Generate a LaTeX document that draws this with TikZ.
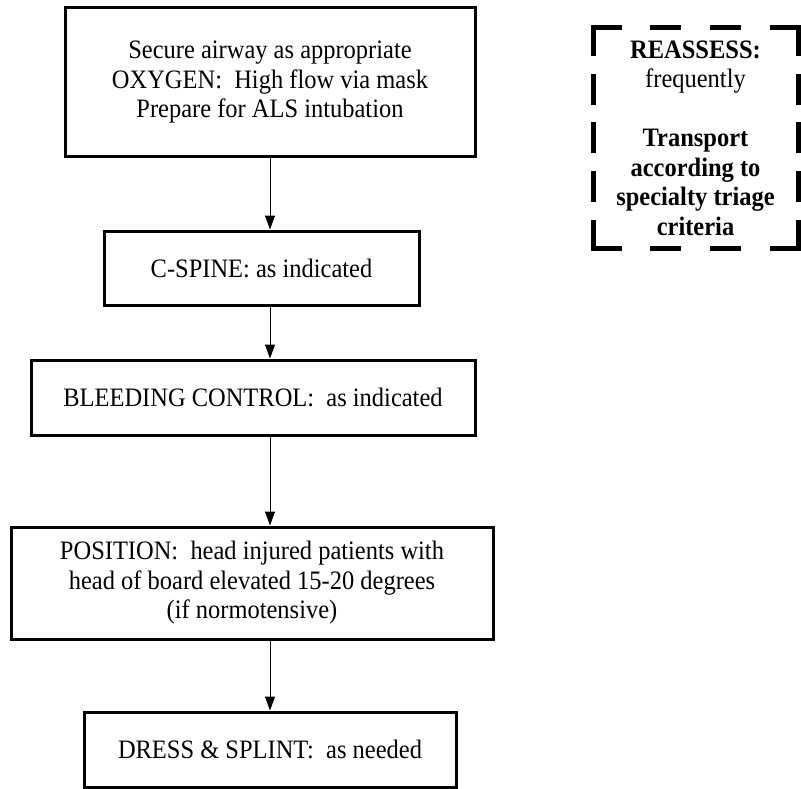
\documentclass[tikz,border=0pt]{standalone}
\usepackage{fontspec}
\setmainfont{Liberation Serif}[FakeStretch=0.92]
\usetikzlibrary{arrows.meta}

\begin{document}
\begin{tikzpicture}[x=1pt,y=-1pt,
  box/.style={draw, line width=3pt, align=center, inner sep=0pt,
    font=\fontsize{26.6}{29.5}\selectfont},
  notebox/.style={box, draw=none, outer sep=0pt},
  noteside/.style={line width=5pt, line cap=rect},
  arr/.style={-{Triangle[length=14pt,width=10pt]}, line width=1pt}]
\useasboundingbox (0,0) rectangle (801,789);
\node[box, minimum width=410pt, minimum height=149pt] (airway) at (270,82.5)
  {Secure airway as appropriate\\OXYGEN:\ \ High flow via mask\\Prepare for ALS intubation};
\node[box, minimum width=315pt, minimum height=74pt] (cspine) at (261.5,268)
  {C-SPINE: as indicated};
\node[box, minimum width=444pt, minimum height=75pt] (bleeding) at (253,397.5)
  {BLEEDING CONTROL:\ \ as indicated};
\node[box, minimum width=482pt, minimum height=112pt] (position) at (252,583)
  {POSITION:\ \ head injured patients with\\head of board elevated 15-20 degrees\\(if normotensive)};
\node[box, minimum width=372pt, minimum height=75pt] (dress) at (270,749.5)
  {DRESS \& SPLINT:\ \ as needed};
\node[notebox, minimum width=205pt, minimum height=220pt] (reassess) at (695.5,138)
  {\textbf{REASSESS:}\\frequently\\[29.5pt]\textbf{Transport}\\\textbf{according to}\\\textbf{specialty triage}\\\textbf{criteria}};
% dashed frame, one side at a time
\draw[noteside, dash pattern=on 26pt off 33.67pt] (reassess.north west) -- (reassess.north east);
\draw[noteside, dash pattern=on 26pt off 33.67pt] (reassess.south west) -- (reassess.south east);
\draw[noteside, dash pattern=on 26pt off 22.5pt] (reassess.north west) -- (reassess.south west);
\draw[noteside, dash pattern=on 26pt off 22.5pt] (reassess.north east) -- (reassess.south east);
\draw[arr] (airway.south) -- (airway.south |- cspine.north);
\draw[arr] (airway.south |- cspine.south) -- (airway.south |- bleeding.north);
\draw[arr] (airway.south |- bleeding.south) -- (airway.south |- position.north);
\draw[arr] (airway.south |- position.south) -- (dress.north -| airway.south);
\end{tikzpicture}
\end{document}
